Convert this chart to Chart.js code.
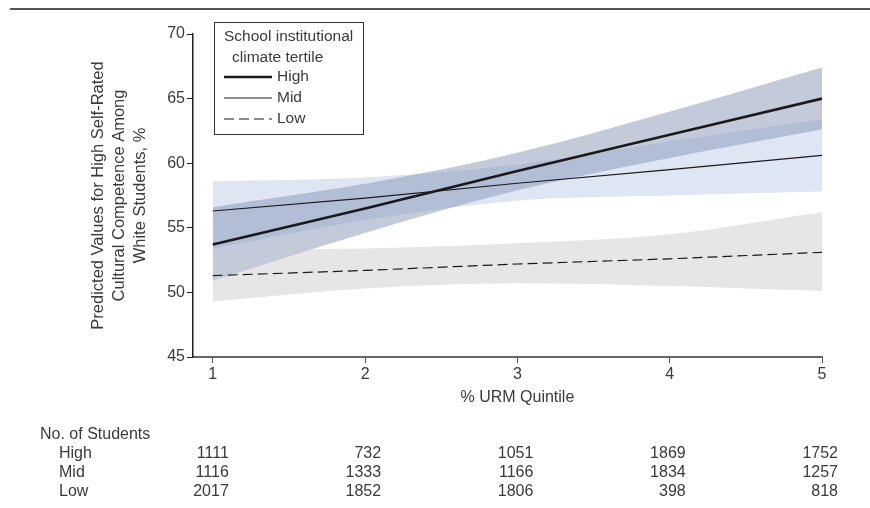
<!DOCTYPE html>
<html>
<head>
<meta charset="utf-8">
<script src="https://cdn.jsdelivr.net/npm/chart.js@4.4.1/dist/chart.umd.min.js"></script>
<style>
  html, body { margin: 0; padding: 0; background: #fff; }
  #wrap { width: 870px; height: 508px; position: relative; }
</style>
</head>
<body>
<div id="wrap"><canvas id="chart" width="870" height="508"></canvas></div>
<script>
// % URM quintile on the x axis
const quintiles = [1, 2, 3, 4, 5];

// predicted values (%) and confidence bands, by school climate tertile
const highFit = [53.7, 56.5, 59.4, 62.2, 65.0];
const highLo = [50.9, 54.6, 57.9, 60.4, 62.6];
const highHi = [56.6, 58.4, 60.8, 64.0, 67.4];

const midFit = [56.3, 57.3, 58.45, 59.5, 60.6];
const midLo = [53.4, 55.6, 57.1, 57.5, 57.8];
const midHi = [58.6, 58.9, 59.9, 61.7, 63.4];

const lowFit = [51.3, 51.7, 52.2, 52.6, 53.1];
const lowLo = [49.3, 50.3, 50.7, 50.5, 50.1];
const lowHi = [53.3, 53.4, 53.8, 54.5, 56.2];

const yTicks = [45, 50, 55, 60, 65, 70];

// number of students table
const tertiles = ['High', 'Mid', 'Low'];
const nHigh = [1111, 732, 1051, 1869, 1752];
const nMid = [1116, 1333, 1166, 1834, 1257];
const nLow = [2017, 1852, 1806, 398, 818];
const studentCounts = [nHigh, nMid, nLow];

const FONT = '"Liberation Sans", Arial, sans-serif';
const TEXT = '#3a3a3a';

const pts = arr => arr.map((v, i) => ({ x: quintiles[i], y: v }));

const band = (data, color, fill) => ({
    data: pts(data),
    borderWidth: 0,
    pointRadius: 0,
    tension: 0.35,
    cubicInterpolationMode: 'monotone',
    backgroundColor: color,
    fill: fill
});

const fitLine = (data, width, dash) => ({
    data: pts(data),
    borderColor: '#1a1a1a',
    borderWidth: width,
    borderDash: dash,
    pointRadius: 0,
    tension: 0,
    fill: false
});

// fills are painted from the last dataset to the first
const datasets = [
    fitLine(highFit, 2.6, []),
    fitLine(midFit, 1.2, []),
    fitLine(lowFit, 1.2, [10, 5]),
    band(midHi, 'rgba(0,0,0,0)', false),
    band(midLo, 'rgba(127,155,207,0.25)', '-1'),
    band(highHi, 'rgba(0,0,0,0)', false),
    band(highLo, 'rgb(195,202,217)', '-1'),
    band(lowHi, 'rgba(0,0,0,0)', false),
    band(lowLo, 'rgb(230,230,231)', '-1')
];

const extras = {
    id: 'extras',
    beforeDraw(chart) {
        const ctx = chart.ctx;
        ctx.save();
        ctx.fillStyle = '#fff';
        ctx.fillRect(0, 0, chart.width, chart.height);
        ctx.restore();
    },
    afterDraw(chart) {
        const ctx = chart.ctx;
        const xs = chart.scales.x;
        const ys = chart.scales.y;
        ctx.save();

        // top rule
        ctx.strokeStyle = '#555';
        ctx.lineWidth = 2;
        ctx.beginPath();
        ctx.moveTo(10, 9);
        ctx.lineTo(870, 9);
        ctx.stroke();

        ctx.fillStyle = TEXT;

        // y axis title
        ctx.font = '16.5px ' + FONT;
        ctx.save();
        ctx.translate(0, (ys.top + ys.bottom) / 2);
        ctx.rotate(-Math.PI / 2);
        ctx.textAlign = 'center';
        ctx.textBaseline = 'middle';
        ctx.fillText('Predicted Values for High Self-Rated', 0, 98);
        ctx.fillText('Cultural Competence Among', 0, 119);
        ctx.fillText('White Students, %', 0, 140);
        ctx.restore();

        // x axis title
        ctx.font = '16px ' + FONT;
        ctx.textAlign = 'center';
        ctx.textBaseline = 'middle';
        ctx.fillText('% URM Quintile', xs.getPixelForValue(3), 398);

        // legend
        const lx = 214, ly = 22;
        ctx.font = '15.5px ' + FONT;
        ctx.strokeStyle = '#333';
        ctx.lineWidth = 1;
        ctx.strokeRect(lx + 0.5, ly + 0.5, 149, 112);
        ctx.textAlign = 'left';
        ctx.fillText('School institutional', lx + 10, ly + 15);
        ctx.fillText('climate tertile', lx + 18, ly + 36);
        [0, 1, 2].forEach(i => {
            const ds = datasets[i];
            const y = ly + 55 + i * 21;
            ctx.strokeStyle = ds.borderColor;
            ctx.lineWidth = ds.borderWidth;
            ctx.setLineDash(ds.borderDash);
            ctx.beginPath();
            ctx.moveTo(lx + 10, y);
            ctx.lineTo(lx + 58, y);
            ctx.stroke();
            ctx.setLineDash([]);
            ctx.fillText(tertiles[i], lx + 63, y);
        });

        // number of students table
        ctx.font = '16px ' + FONT;
        ctx.fillText('No. of Students', 40, 435);
        tertiles.forEach((t, r) => {
            const y = 454 + r * 19;
            ctx.textAlign = 'left';
            ctx.fillText(t, 59, y);
            ctx.textAlign = 'right';
            studentCounts[r].forEach((n, i) => {
                ctx.fillText(String(n), xs.getPixelForValue(quintiles[i]) + 16, y);
            });
        });
        ctx.restore();
    }
};

new Chart(document.getElementById('chart'), {
    type: 'line',
    data: { datasets },
    options: {
        responsive: false,
        animation: false,
        layout: { padding: { top: 34, right: 48, left: 0, bottom: 0 } },
        plugins: {
            legend: { display: false },
            tooltip: { enabled: false },
            filler: { drawTime: 'beforeDatasetsDraw', propagate: false }
        },
        scales: {
            x: {
                type: 'linear',
                min: 0.87,
                max: 5,
                afterFit: s => { s.height = 151; },
                afterBuildTicks: s => { s.ticks = quintiles.map(v => ({ value: v })); },
                ticks: { font: { size: 16, family: FONT }, color: TEXT, padding: 2 },
                grid: { drawOnChartArea: false, tickLength: 6, color: '#555', lineWidth: 1 },
                border: { color: '#666', width: 2 }
            },
            y: {
                min: 45,
                max: 70,
                afterFit: s => { s.width = 193; },
                afterBuildTicks: s => { s.ticks = yTicks.map(v => ({ value: v })); },
                ticks: { font: { size: 16, family: FONT }, color: TEXT, padding: 2 },
                grid: { drawOnChartArea: false, tickLength: 6, color: '#222', lineWidth: 1 },
                border: { color: '#222', width: 1.5 }
            }
        }
    },
    plugins: [extras]
});
</script>
</body>
</html>
